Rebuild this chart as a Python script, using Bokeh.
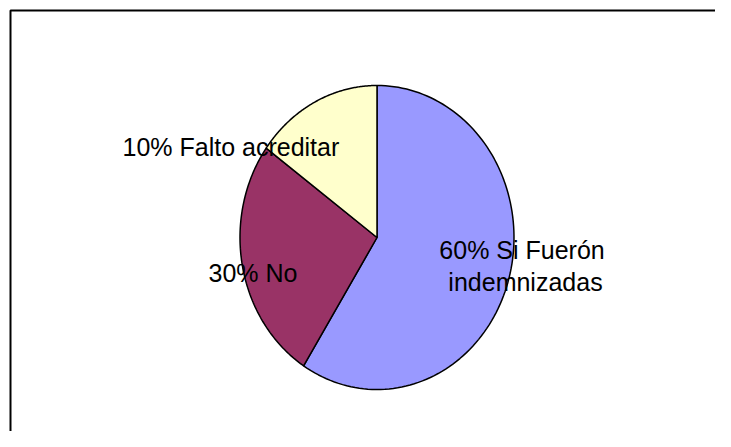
import numpy as np
from bokeh.plotting import figure
from bokeh.models import Range1d, ColumnDataSource
from bokeh.core.properties import value
from bokeh.embed import file_html
from bokeh.resources import INLINE

# ---- data ----
categories = ["Si Fuerón indemnizadas", "No", "Falto acreditar"]
values = [59, 26, 15]
label_lines = [["60%  Si Fuerón", "indemnizadas"], ["30% No"], ["10% Falto acreditar"]]
colors = ["#9999FF", "#993366", "#FFFFCC"]

# ---- layout ----
W, H = 715, 431
cx, cy = 376.5, 194.0
rx, ry = 137.0, 152.0
label_pos = [[(525, 182, "center"), (525, 150, "center")],
             [(208, 159, "left")],
             [(122, 285, "left")]]

p = figure(width=W, height=H, output_backend="svg", toolbar_location=None,
           x_range=Range1d(0, W), y_range=Range1d(0, H),
           x_axis_type=None, y_axis_type=None, min_border=0)
p.grid.visible = False
p.outline_line_color = None
p.background_fill_color = "white"
p.border_fill_color = "white"

# frame (top and left edges visible)
p.line(x=[10, 10, W], y=[0, H - 10, H - 10], line_color="black", line_width=2)

# elliptical pie slices, clockwise from top
total = float(sum(values))
start = np.pi / 2
xs, ys = [], []
for v in values:
    sweep = 2 * np.pi * v / total
    t = np.linspace(start, start - sweep, 120)
    xs.append(list(np.concatenate([[cx], cx + rx * np.cos(t)])))
    ys.append(list(np.concatenate([[cy], cy + ry * np.sin(t)])))
    start -= sweep

src = ColumnDataSource(dict(xs=xs, ys=ys, color=colors, name=categories))
p.patches("xs", "ys", source=src, fill_color="color", line_color="black", line_width=1.5)

# labels
for lines, poss in zip(label_lines, label_pos):
    for txt, (x, y, al) in zip(lines, poss):
        p.text(x=[x], y=[y], text=[txt], text_font=value("Liberation Sans"),
               text_font_size="25px", text_color="black",
               text_align=al, text_baseline="alphabetic")

open("out.html", "w").write(file_html(p, INLINE))
